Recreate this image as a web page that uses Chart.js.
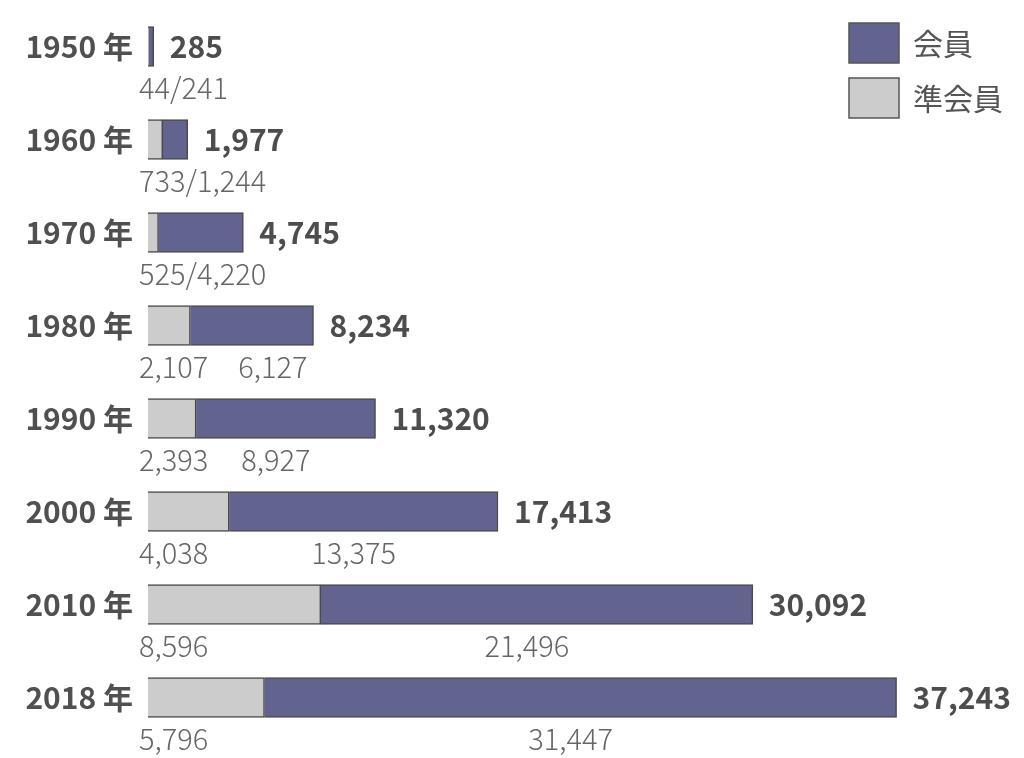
<!DOCTYPE html>
<html>
<head>
<meta charset="utf-8">
<script src="https://cdn.jsdelivr.net/npm/chart.js@4"></script>
<style>
  html, body { margin: 0; padding: 0; background: #fff; }
  #wrap { width: 1024px; height: 758px; position: relative; }
</style>
</head>
<body>
<div id="wrap"><canvas id="myChart"></canvas></div>
<script>
const years = ['1950 年', '1960 年', '1970 年', '1980 年', '1990 年', '2000 年', '2010 年', '2018 年'];
const associateMembers = [44, 733, 525, 2107, 2393, 4038, 8596, 5796];
const regularMembers = [241, 1244, 4220, 6127, 8927, 13375, 21496, 31447];
const totals = [285, 1977, 4745, 8234, 11320, 17413, 30092, 37243];

const FONT = '"Noto Sans CJK JP", "Noto Sans", sans-serif';
const fmt = n => n.toLocaleString('en-US');

// value labels under the bars + bold totals on the right
const labelPlugin = {
    id: 'barLabels',
    afterDatasetsDraw(chart) {
        const ctx = chart.ctx;
        const x = chart.scales.x;
        const y = chart.scales.y;
        ctx.save();
        ctx.textBaseline = 'middle';
        years.forEach((yr, i) => {
            const cy = y.getPixelForValue(i);
            const x0 = x.getPixelForValue(0);
            const xa = x.getPixelForValue(associateMembers[i]);
            const xt = x.getPixelForValue(totals[i]);

            // total
            ctx.font = 'bold 30px ' + FONT;
            ctx.fillStyle = '#4d4d4d';
            ctx.textAlign = 'left';
            ctx.fillText(fmt(totals[i]), xt + 16, cy);

            // breakdown
            ctx.font = '300 29px ' + FONT;
            ctx.fillStyle = '#666';
            const ly = cy + 41;
            ctx.textAlign = 'left';
            if (totals[i] < 5000) {
                ctx.fillText(fmt(associateMembers[i]) + '/' + fmt(regularMembers[i]), x0 - 9, ly);
            } else {
                const a = fmt(associateMembers[i]);
                const r = fmt(regularMembers[i]);
                ctx.fillText(a, x0 - 9, ly);
                const rw = ctx.measureText(r).width;
                let left = (xa + xt) / 2 - 10 - rw / 2;
                left = Math.max(left, x0 - 9 + ctx.measureText(a).width + 30);
                ctx.fillText(r, left, ly);
            }
        });

        // legend, top right
        const items = [chart.data.datasets[1], chart.data.datasets[0]];
        items.forEach((ds, k) => {
            const top = 23 + k * 55;
            ctx.fillStyle = ds.backgroundColor;
            ctx.strokeStyle = '#555';
            ctx.lineWidth = 1.5;
            ctx.fillRect(849, top, 50, 40);
            ctx.strokeRect(849, top, 50, 40);
            ctx.font = '30px ' + FONT;
            ctx.fillStyle = '#555';
            ctx.textAlign = 'left';
            ctx.fillText(ds.label, 913, top + 21);
        });
        ctx.restore();
    }
};

new Chart(document.getElementById('myChart'), {
    type: 'bar',
    data: {
        labels: years,
        datasets: [{
            label: '準会員',
            data: associateMembers,
            backgroundColor: '#cccccc',
            borderColor: '#4a4a4a',
            borderWidth: 1.5,
            barThickness: 40
        }, {
            label: '会員',
            data: regularMembers,
            backgroundColor: '#63638f',
            borderColor: '#4a4a4a',
            borderWidth: 1.5,
            barThickness: 40
        }]
    },
    options: {
        indexAxis: 'y',
        responsive: true,
        maintainAspectRatio: false,
        animation: false,
        layout: { padding: { top: -2, bottom: 14, right: 72, left: 0 } },
        plugins: {
            legend: { display: false },
            tooltip: { enabled: false }
        },
        scales: {
            x: {
                stacked: true,
                min: 0,
                max: 40000,
                display: false
            },
            y: {
                stacked: true,
                grid: { display: false, drawTicks: false },
                border: { display: false },
                afterFit: scale => {
                    scale.width = 148;
                    scale.paddingTop = 0;
                    scale.paddingBottom = 0;
                },
                ticks: {
                    color: '#505050',
                    padding: 15,
                    font: { family: FONT, size: 30, weight: 'bold' }
                }
            }
        }
    },
    plugins: [labelPlugin]
});
</script>
</body>
</html>
